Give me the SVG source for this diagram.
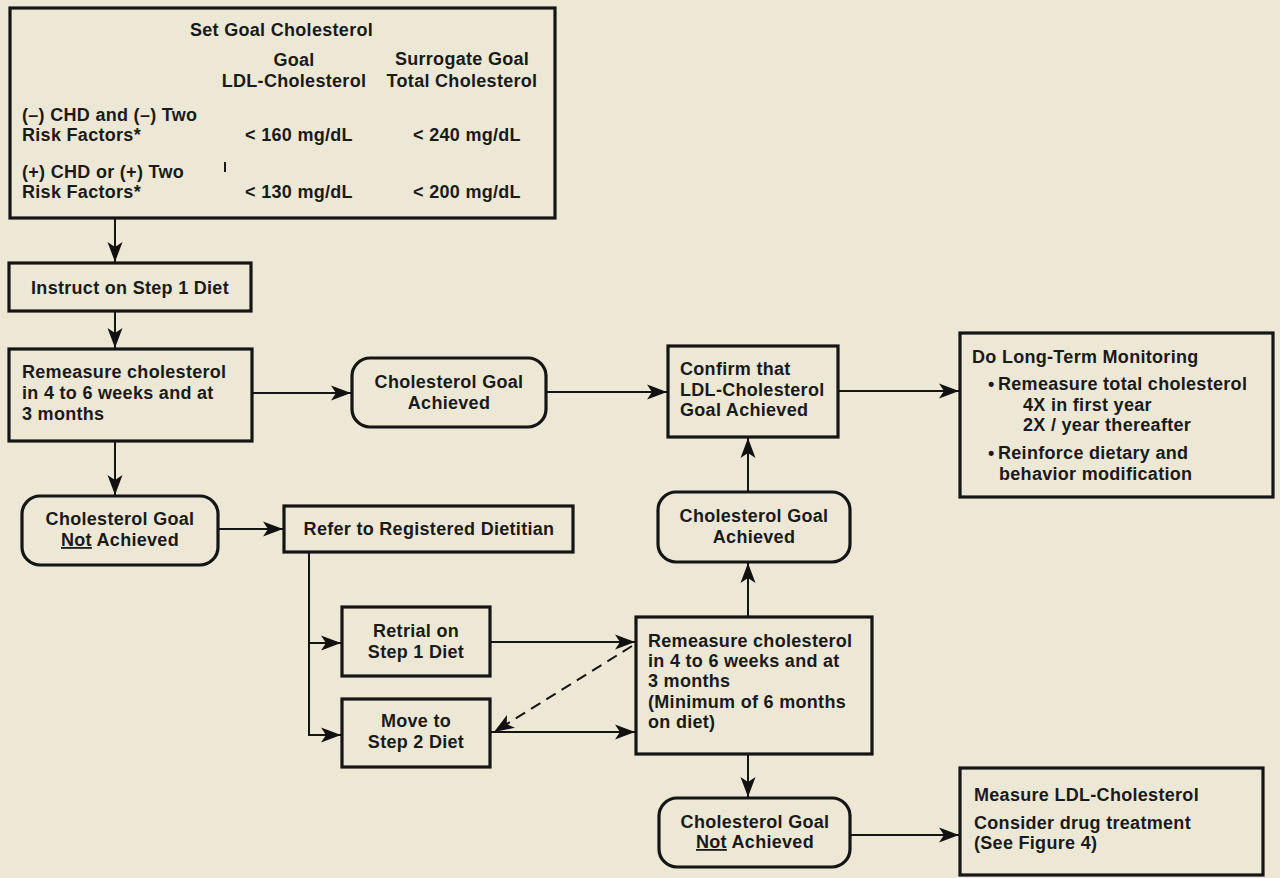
<svg xmlns="http://www.w3.org/2000/svg" width="1280" height="878" viewBox="0 0 1280 878">
  <defs>
    <marker id="arrow" markerUnits="userSpaceOnUse" markerWidth="22" markerHeight="16" refX="20" refY="7.5" orient="auto" overflow="visible">
      <path d="M0,0 L20,7.5 L0,15 L5,7.5 z" fill="#111"/>
    </marker>
    <style>
      .box { fill: none; stroke: #151515; stroke-width: 3.2; }
      .line { fill: none; stroke: #151515; stroke-width: 2; }
      .dash { fill: none; stroke: #151515; stroke-width: 2; stroke-dasharray: 11 7; }
      text { font-family: "Liberation Sans", Arial, Helvetica, sans-serif; font-weight: bold; font-size: 18px; letter-spacing: 0.3px; fill: #1a1a1a; }
      .c { text-anchor: middle; }
    </style>
  </defs>

  <rect x="0" y="0" width="1280" height="878" fill="#ede8d5"/>

  <!-- connectors -->
  <g id="connectors">
    <line class="line" x1="115" y1="219" x2="115" y2="262" marker-end="url(#arrow)"/>
    <line class="line" x1="115" y1="312" x2="115" y2="348" marker-end="url(#arrow)"/>
    <line class="line" x1="253" y1="393" x2="351" y2="393" marker-end="url(#arrow)"/>
    <line class="line" x1="547" y1="392" x2="667" y2="392" marker-end="url(#arrow)"/>
    <line class="line" x1="839" y1="391" x2="959" y2="391" marker-end="url(#arrow)"/>
    <line class="line" x1="115" y1="442" x2="115" y2="495" marker-end="url(#arrow)"/>
    <line class="line" x1="219" y1="529" x2="283" y2="529" marker-end="url(#arrow)"/>
    <polyline class="line" points="309,553 309,735 341,735" marker-end="url(#arrow)"/>
    <line class="line" x1="309" y1="643" x2="341" y2="643" marker-end="url(#arrow)"/>
    <line class="line" x1="491" y1="642" x2="635" y2="642" marker-end="url(#arrow)"/>
    <line class="line" x1="491" y1="732" x2="635" y2="732" marker-end="url(#arrow)"/>
    <line class="dash" x1="632" y1="646" x2="494" y2="732" marker-end="url(#arrow)"/>
    <line class="line" x1="748" y1="616" x2="748" y2="563" marker-end="url(#arrow)"/>
    <line class="line" x1="748" y1="491" x2="748" y2="438" marker-end="url(#arrow)"/>
    <line class="line" x1="748" y1="755" x2="748" y2="797" marker-end="url(#arrow)"/>
    <line class="line" x1="851" y1="835" x2="959" y2="835" marker-end="url(#arrow)"/>
  </g>

  <!-- goal table -->
  <g id="set-goal">
    <rect class="box" x="10" y="8" width="545" height="210"/>
    <text x="190" y="36">Set Goal Cholesterol</text>
    <text class="c" x="294" y="66">Goal</text>
    <text class="c" x="294" y="87">LDL-Cholesterol</text>
    <text class="c" x="462" y="65">Surrogate Goal</text>
    <text class="c" x="462" y="87">Total Cholesterol</text>
    <text x="22" y="121">(–) CHD and (–) Two</text>
    <text x="22" y="141">Risk Factors*</text>
    <text class="c" x="299" y="141">&lt; 160 mg/dL</text>
    <text class="c" x="467" y="141">&lt; 240 mg/dL</text>
    <text x="22" y="178">(+) CHD or (+) Two</text>
    <text x="22" y="198">Risk Factors*</text>
    <text class="c" x="299" y="198">&lt; 130 mg/dL</text>
    <text class="c" x="467" y="198">&lt; 200 mg/dL</text>
    <line x1="225" y1="162" x2="225" y2="172" stroke="#1a1a1a" stroke-width="2"/>
  </g>

  <g id="instruct">
    <rect class="box" x="9" y="263" width="242" height="48"/>
    <text class="c" x="130" y="294">Instruct on Step 1 Diet</text>
  </g>

  <g id="remeasure-1">
    <rect class="box" x="9" y="349" width="243" height="92"/>
    <text x="22" y="378">Remeasure cholesterol</text>
    <text x="22" y="399">in 4 to 6 weeks and at</text>
    <text x="22" y="420">3 months</text>
  </g>

  <g id="achieved-1">
    <rect class="box" x="352" y="358" width="194" height="69" rx="18"/>
    <text class="c" x="449" y="388">Cholesterol Goal</text>
    <text class="c" x="449" y="409">Achieved</text>
  </g>

  <g id="not-achieved-1">
    <rect class="box" x="22" y="496" width="196" height="69" rx="18"/>
    <text class="c" x="120" y="525">Cholesterol Goal</text>
    <text class="c" x="120" y="546"><tspan text-decoration="underline">Not</tspan> Achieved</text>
  </g>

  <g id="refer">
    <rect class="box" x="284" y="506" width="289" height="46"/>
    <text class="c" x="429" y="535">Refer to Registered Dietitian</text>
  </g>

  <g id="retrial">
    <rect class="box" x="342" y="607" width="148" height="69"/>
    <text class="c" x="416" y="637">Retrial on</text>
    <text class="c" x="416" y="658">Step 1 Diet</text>
  </g>

  <g id="step-2">
    <rect class="box" x="342" y="699" width="148" height="68"/>
    <text class="c" x="416" y="727">Move to</text>
    <text class="c" x="416" y="748">Step 2 Diet</text>
  </g>

  <g id="remeasure-2">
    <rect class="box" x="636" y="617" width="236" height="137"/>
    <text x="648" y="647">Remeasure cholesterol</text>
    <text x="648" y="667">in 4 to 6 weeks and at</text>
    <text x="648" y="687">3 months</text>
    <text x="648" y="708">(Minimum of 6 months</text>
    <text x="648" y="728">on diet)</text>
  </g>

  <g id="achieved-2">
    <rect class="box" x="658" y="492" width="192" height="70" rx="18"/>
    <text class="c" x="754" y="522">Cholesterol Goal</text>
    <text class="c" x="754" y="543">Achieved</text>
  </g>

  <g id="confirm">
    <rect class="box" x="668" y="346" width="170" height="91"/>
    <text x="680" y="375">Confirm that</text>
    <text x="680" y="396">LDL-Cholesterol</text>
    <text x="680" y="416">Goal Achieved</text>
  </g>

  <g id="monitoring">
    <rect class="box" x="960" y="333" width="313" height="164"/>
    <text x="972" y="363">Do Long-Term Monitoring</text>
    <text x="988" y="390">•</text>
    <text x="998" y="390">Remeasure total cholesterol</text>
    <text x="1023" y="411">4X in first year</text>
    <text x="1023" y="431">2X / year thereafter</text>
    <text x="988" y="459">•</text>
    <text x="998" y="459">Reinforce dietary and</text>
    <text x="999" y="480">behavior modification</text>
  </g>

  <g id="not-achieved-2">
    <rect class="box" x="659" y="798" width="191" height="69" rx="18"/>
    <text class="c" x="755" y="828">Cholesterol Goal</text>
    <text class="c" x="755" y="848"><tspan text-decoration="underline">Not</tspan> Achieved</text>
  </g>

  <g id="drug-treatment">
    <rect class="box" x="960" y="768" width="303" height="107"/>
    <text x="974" y="801">Measure LDL-Cholesterol</text>
    <text x="974" y="829">Consider drug treatment</text>
    <text x="974" y="849">(See Figure 4)</text>
  </g>
</svg>
